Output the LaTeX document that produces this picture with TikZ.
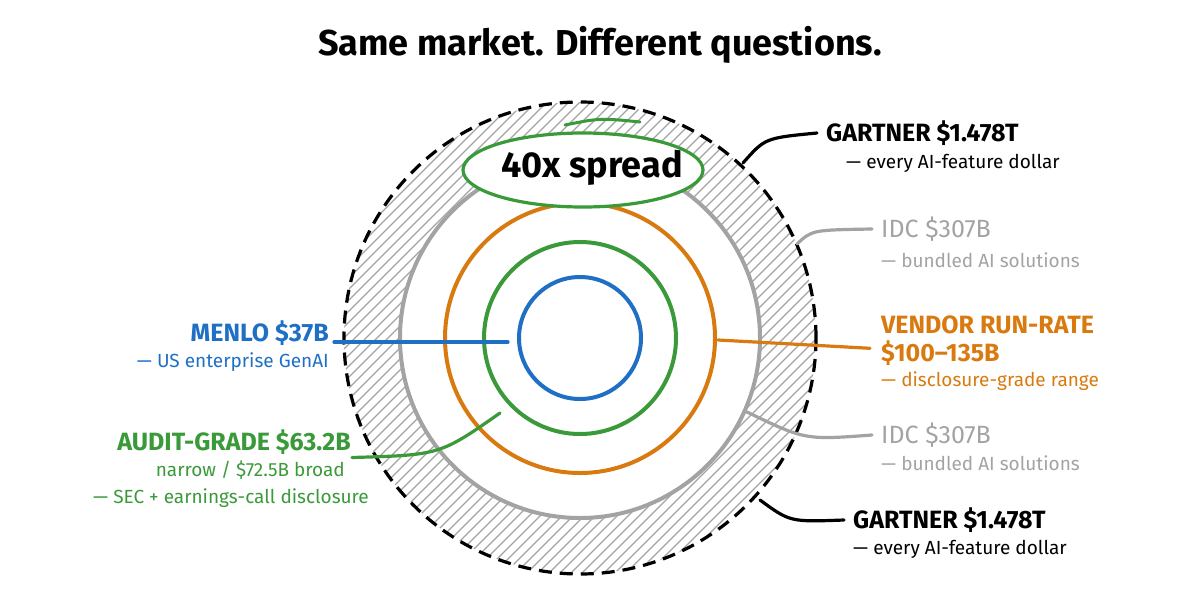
\documentclass[tikz,border=0pt]{standalone}
\usepackage{fontspec}
\setmainfont{Fira Sans}
\usetikzlibrary{positioning,calc}
\definecolor{mblue}{HTML}{1F6FC5}
\definecolor{mgreen}{HTML}{3A9A3A}
\definecolor{morange}{HTML}{D97A10}
\definecolor{mgray}{HTML}{A3A3A3}
\tikzset{
  head/.style={font=\fontsize{25}{28}\selectfont, inner sep=1pt},
  sub/.style={font=\fontsize{19}{22}\selectfont, inner sep=1pt},
  lead/.style={line width=3.2pt, line cap=round},
  ring/.style={line width=4pt},
}
\begin{document}
\begin{tikzpicture}[x=1pt, y=-1pt]
    \useasboundingbox (0,0) rectangle (1200,606);
    \coordinate (c) at (580,338);

    % hatched ring
    \begin{scope}
        \clip (c) circle (236);
        \foreach \k in {-500,-489,...,500}
            \draw [mgray, line width=1.3pt] ($(c)+(\k-250,250)$) -- ($(c)+(\k+250,-250)$);
    \end{scope}
    \fill [white] (c) circle (180);
    \draw [line width=3.2pt, dash pattern=on 13pt off 8pt] (c) circle (236);
    \draw [ring, mgray] (c) circle (180);
    \draw [ring, morange] (c) circle (135);
    \draw [ring, mgreen] (c) circle (96);
    \draw [ring, mblue] (c) circle (61);

    % title and badge
    \node [font=\fontsize{36}{40}\selectfont\bfseries] (title) at (600,45) {Same market. Different questions.};
    \draw [mgreen, line width=3.2pt, fill=white] (583,170) ellipse (120 and 37);
    \node [font=\fontsize{36}{40}\selectfont\bfseries] (spread) at (592,168) {40x spread};
    \draw [mgreen, line width=3pt, line cap=round] (565,125) .. controls (600,118) .. (640,122);

    % right labels
    \node [head, anchor=west] (g1) at (825,133) {\bfseries GARTNER \$1.478T};
    \node [sub, anchor=west] (g1s) at (845,163) {— every AI-feature dollar};
    \node [head, anchor=west, text=mgray] (i1) at (880,229) {IDC \$307B};
    \node [sub, anchor=west, text=mgray] (i1s) at (880,260) {— bundled AI solutions};
    \node [head, anchor=west, text=morange] (v1) at (880,325) {\bfseries VENDOR RUN-RATE};
    \node [head, anchor=west, text=morange] (v2) at (880,353) {\bfseries \$100–135B};
    \node [sub, anchor=west, text=morange] (v3) at (880,381) {— disclosure-grade range};
    \node [head, anchor=west, text=mgray] (i2) at (880,435) {IDC \$307B};
    \node [sub, anchor=west, text=mgray] (i2s) at (880,463) {— bundled AI solutions};
    \node [head, anchor=west] (g2) at (852,520) {\bfseries GARTNER \$1.478T};
    \node [sub, anchor=west] (g2s) at (852,549) {— every AI-feature dollar};

    % left labels
    \node [head, anchor=east, text=mblue] (m1) at (330,333) {\bfseries MENLO \$37B};
    \node [sub, anchor=east, text=mblue] (m2) at (330,362) {— US enterprise GenAI};
    \node [head, anchor=east, text=mgreen] (a1) at (352,442) {\bfseries AUDIT-GRADE \$63.2B};
    \node [sub, anchor=east, text=mgreen] (a2) at (346,470) {narrow / \$72.5B broad};
    \node [sub, anchor=east, text=mgreen] (a3) at (370,498) {— SEC + earnings-call disclosure};

    % leaders
    \coordinate (pg1) at (743,163);
    \coordinate (pi1) at (797,244);
    \coordinate (pv) at (718,340);
    \coordinate (pi2) at (747,412);
    \coordinate (pg2) at (760,500);
    \coordinate (pm) at (508,342);
    \coordinate (pa) at (500,413);
    \draw [lead] (pg1) .. controls (765,138) .. ($(g1.west)+(-8,0)$);
    \draw [lead, mgray] (pi1) .. controls (812,230) .. ($(i1.west)+(-8,0)$);
    \draw [lead, morange] (pv) -- ($(v1.south west)+(-10,13)$);
    \draw [lead, mgray] (pi2) .. controls (805,440) .. ($(i2.west)+(-8,0)$);
    \draw [lead] (pg2) .. controls (790,522) .. ($(g2.west)+(-8,0)$);
    \draw [lead, mblue] ($(m1.east |- pm)+(4,0)$) -- (pm);
    \draw [lead, mgreen] (pa) .. controls (440,455) .. ($(a2.north east)+(6,-2)$);
\end{tikzpicture}
\end{document}
